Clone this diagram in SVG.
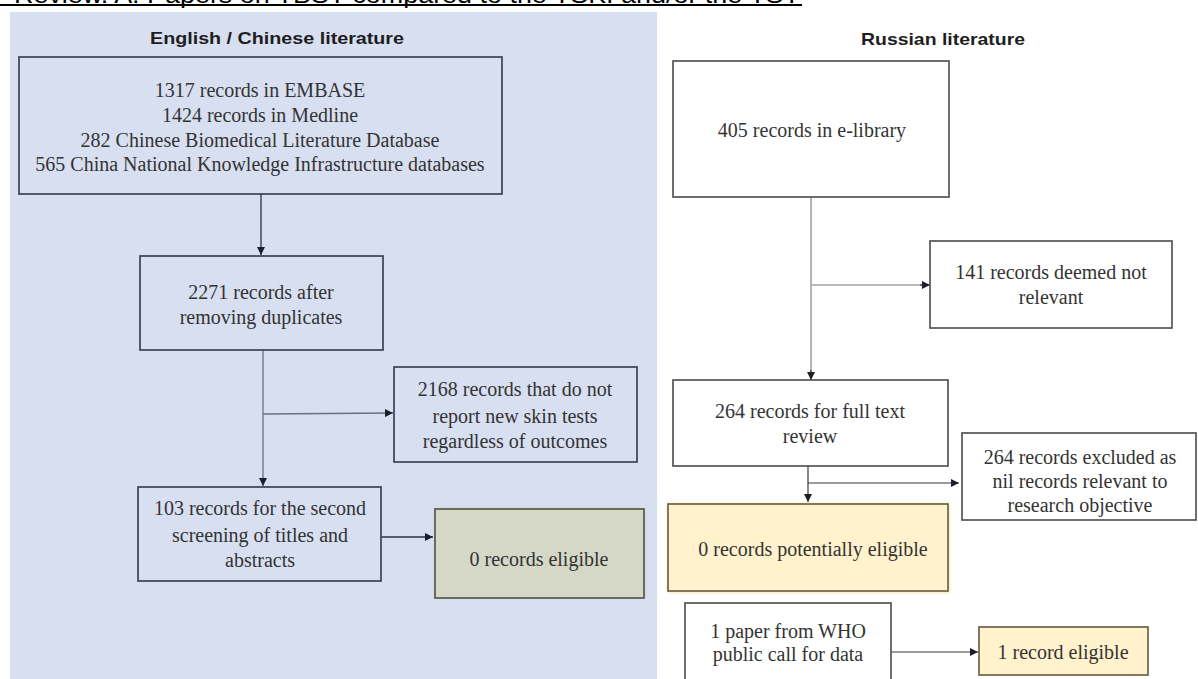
<svg xmlns="http://www.w3.org/2000/svg" width="1198" height="679" viewBox="0 0 1198 679">
  <style>
    .box { fill: none; stroke: #3b4254; stroke-width: 1.7; }
    .rbox { fill: #ffffff; stroke: #555555; stroke-width: 1.7; }
    .ybox { fill: #fff2cc; stroke: #6e6345; stroke-width: 1.7; }
    .gbox { fill: #d5d7c7; stroke: #555a4c; stroke-width: 1.7; }
    .t { font-family: "Liberation Serif", "Times New Roman", serif; font-size: 20px; fill: #333333; text-anchor: middle; }
    .h { font-family: "Liberation Sans", Arial, sans-serif; font-weight: bold; font-size: 17px; fill: #1e1e1e; text-anchor: middle; }
    .ln { fill: none; stroke: #2b3040; stroke-width: 1.3; }
    .lg { fill: none; stroke: #6a7080; stroke-width: 1.3; }
    .lr { fill: none; stroke: #a3a3a3; stroke-width: 1.6; }
    .ld { fill: none; stroke: #3a3a3a; stroke-width: 1.2; }
  </style>
  <defs>
    <marker id="arr" viewBox="0 0 10 10" refX="10" refY="5" markerWidth="8" markerHeight="8" markerUnits="userSpaceOnUse" orient="auto">
      <path d="M0,0 L10,5 L0,10 Z" fill="#1c1f2a"/>
    </marker>
    <filter id="glow" x="-10%" y="-10%" width="120%" height="120%">
      <feGaussianBlur stdDeviation="1.5"/>
    </filter>
  </defs>

  <!-- caption line, partly above the page edge -->
  <g id="caption">
    <text x="14" y="2.5" font-family="Liberation Sans, Arial, sans-serif" font-size="24" fill="#000" textLength="786" lengthAdjust="spacingAndGlyphs">Review. A. Papers on TBST compared to the TSKI and/or the TST</text>
    <line x1="0" y1="5" x2="802" y2="5" stroke="#000" stroke-width="2.2"/>
  </g>

  <!-- left panel background -->
  <rect id="panel-left" x="10" y="12" width="647" height="667" fill="#d7dff1"/>

  <g id="titles">
    <text class="h" x="277" y="44" textLength="254" lengthAdjust="spacingAndGlyphs">English / Chinese literature</text>
    <text class="h" x="943" y="45" textLength="164" lengthAdjust="spacingAndGlyphs">Russian literature</text>
  </g>

  <!-- connectors -->
  <g id="connectors">
    <line class="ln" x1="261" y1="194" x2="261" y2="255" marker-end="url(#arr)"/>
    <line class="lg" x1="263" y1="350" x2="263" y2="486" marker-end="url(#arr)"/>
    <line class="lg" x1="263" y1="414" x2="393" y2="413" marker-end="url(#arr)"/>
    <line class="ln" x1="381" y1="537" x2="433" y2="537" marker-end="url(#arr)"/>

    <line class="lr" x1="811" y1="197" x2="811" y2="372"/>
    <line class="ld" x1="811" y1="370" x2="811" y2="380" marker-end="url(#arr)"/>
    <line class="lr" x1="811" y1="285" x2="923" y2="285"/>
    <line class="ld" x1="920" y1="285" x2="930" y2="285" marker-end="url(#arr)"/>
    <line class="ld" x1="808" y1="466" x2="808" y2="502" marker-end="url(#arr)"/>
    <line class="ld" x1="808" y1="483" x2="959" y2="483" marker-end="url(#arr)"/>
    <line class="ld" x1="891" y1="652" x2="978" y2="652" marker-end="url(#arr)"/>
  </g>

  <!-- English / Chinese nodes -->
  <g id="n-sources">
    <rect class="box" x="19" y="57" width="483" height="137"/>
    <text class="t" x="260" y="97">1317 records in EMBASE</text>
    <text class="t" x="260" y="122">1424 records in Medline</text>
    <text class="t" x="260" y="147">282 Chinese Biomedical Literature Database</text>
    <text class="t" x="260" y="171">565 China National Knowledge Infrastructure databases</text>
  </g>
  <g id="n-dedup">
    <rect class="box" x="140" y="256" width="243" height="94"/>
    <text class="t" x="261" y="299">2271 records after</text>
    <text class="t" x="261" y="324">removing duplicates</text>
  </g>
  <g id="n-excl-en">
    <rect class="box" x="394" y="367" width="243" height="95"/>
    <text class="t" x="515" y="396">2168 records that do not</text>
    <text class="t" x="515" y="423">report new skin tests</text>
    <text class="t" x="515" y="448">regardless of outcomes</text>
  </g>
  <g id="n-second">
    <rect class="box" x="138" y="487" width="243" height="94"/>
    <text class="t" x="260" y="515">103 records for the second</text>
    <text class="t" x="260" y="542">screening of titles and</text>
    <text class="t" x="260" y="567">abstracts</text>
  </g>
  <g id="n-eligible-en">
    <rect x="434" y="508" width="211" height="90" fill="#c9c9a8" opacity="0.6" filter="url(#glow)"/>
    <rect class="gbox" x="435" y="509" width="209" height="89"/>
    <text class="t" x="539" y="566">0 records eligible</text>
  </g>

  <!-- Russian nodes -->
  <g id="n-elibrary">
    <rect class="rbox" x="673" y="61" width="276" height="136"/>
    <text class="t" x="812" y="137">405 records in e-library</text>
  </g>
  <g id="n-notrel">
    <rect class="rbox" x="930" y="241" width="242" height="87"/>
    <text class="t" x="1051" y="279">141 records deemed not</text>
    <text class="t" x="1051" y="304">relevant</text>
  </g>
  <g id="n-fulltext">
    <rect class="rbox" x="673" y="380" width="275" height="86"/>
    <text class="t" x="810" y="418">264 records for full text</text>
    <text class="t" x="810" y="443">review</text>
  </g>
  <g id="n-excl-ru">
    <rect class="rbox" x="962" y="433" width="234" height="87"/>
    <text class="t" x="1080" y="464">264 records excluded as</text>
    <text class="t" x="1080" y="488">nil records relevant to</text>
    <text class="t" x="1080" y="512">research objective</text>
  </g>
  <g id="n-potential">
    <rect x="667" y="503" width="283" height="90" fill="#f5d98a" opacity="0.6" filter="url(#glow)"/>
    <rect class="ybox" x="668" y="504" width="280" height="87"/>
    <text class="t" x="813" y="556">0  records potentially eligible</text>
  </g>
  <g id="n-who">
    <rect class="rbox" x="685" y="603" width="206" height="90"/>
    <text class="t" x="788" y="638">1 paper from WHO</text>
    <text class="t" x="788" y="661">public call for data</text>
  </g>
  <g id="n-eligible-ru">
    <rect class="ybox" x="979" y="627" width="169" height="48"/>
    <text class="t" x="1063" y="659">1 record eligible</text>
  </g>
</svg>
